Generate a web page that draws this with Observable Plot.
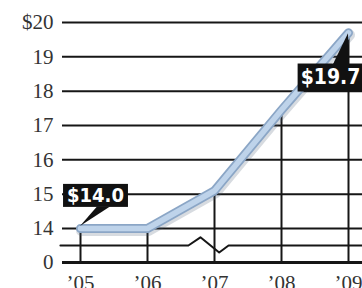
<!DOCTYPE html>
<html>
<head>
<meta charset="utf-8">
<script src="https://cdn.jsdelivr.net/npm/d3@7"></script>
<script src="https://cdn.jsdelivr.net/npm/@observablehq/plot@0.6"></script>
<style>
  html, body { margin: 0; padding: 0; background: #fff; }
  #chart svg { display: block; }
</style>
</head>
<body>
<div id="chart"></div>
<script>
// ---- data ----
const years = [2005, 2006, 2007, 2008, 2009];
const yearLabels = ["’05", "’06", "’07", "’08", "’09"];
const values = [14.0, 14.0, 15.1, 17.45, 19.7];
const yTicks = [0, 14, 15, 16, 17, 18, 19, 20];
const yTickLabels = ["0", "14", "15", "16", "17", "18", "19", "$20"];
const gridValues = [14, 15, 16, 17, 18, 19, 20];
const calloutAbove = [{year: 2005, value: 14.0, text: "$14.0"}];
const calloutBelow = [{year: 2009, value: 19.7, text: "$19.7"}];
// axis-break zigzag (year, value units)
const breakX = [2004.7, 2006.61, 2006.79, 2007.07, 2007.21, 2009.3];
const breakY = [13.5, 13.5, 13.74, 7.9, 13.5, 13.5];

const data = years.map((year, i) => ({year, value: values[i]}));
const breakLine = breakX.map((x, i) => ({x, y: breakY[i]}));
const yTickData = yTicks.map((v, i) => ({v, label: yTickLabels[i]}));
const xTickData = years.map((y, i) => ({y, label: yearLabels[i]}));

const calloutFont = "'Liberation Sans Narrow', 'DejaVu Sans Condensed', 'Arial Narrow', sans-serif";
const W = 362, H = 288;
const plot = Plot.plot({
  width: W,
  height: H,
  marginLeft: 62,
  marginRight: 0,
  marginTop: 22,
  marginBottom: 26,
  style: {background: "#fff"},
  x: {type: "linear", domain: [2005, 2009], range: [80, 348], axis: null},
  y: {type: "linear", domain: [0, 13.5, 14, 20], range: [262, 245, 228, 22], axis: null},
  marks: [
    Plot.ruleY(gridValues, {stroke: "#161616", strokeWidth: 2}),
    Plot.ruleY([0], {stroke: "#161616", strokeWidth: 3}),
    Plot.line(breakLine, {x: "x", y: "y", stroke: "#161616", strokeWidth: 2, curve: "linear"}),
    Plot.ruleX(data, {x: "year", y1: 0, y2: "value", stroke: "#161616", strokeWidth: 2}),
    // data line: shadow, outline, fill
    Plot.line(data, {x: "year", y: "value", stroke: "#4b5c72", strokeOpacity: 0.22, strokeWidth: 11, dx: 1, dy: 2, strokeLinecap: "round", strokeLinejoin: "round"}),
    Plot.line(data, {x: "year", y: "value", stroke: "#8ba6c6", strokeWidth: 9, strokeLinecap: "round", strokeLinejoin: "round"}),
    Plot.line(data, {x: "year", y: "value", stroke: "#bed3ea", strokeWidth: 5.5, strokeLinecap: "round", strokeLinejoin: "round"}),
    // y tick labels
    Plot.text(yTickData, {y: "v", text: "label", frameAnchor: "left", textAnchor: "end", dx: -9,
      fill: "#333", fontSize: 21, fontFamily: "Liberation Serif, 'DejaVu Serif', serif"}),
    // x tick labels
    Plot.text(xTickData, {x: "y", y: () => 0, text: "label", dy: 21,
      fill: "#333", fontSize: 21, fontFamily: "Liberation Serif, 'DejaVu Serif', serif"}),
    // callout labels
    Plot.text(calloutAbove, {x: "year", y: "value", text: "text", dx: 15, dy: -33,
      fill: "#fff", fontSize: 20, fontWeight: "bold", fontFamily: calloutFont}),
    Plot.text(calloutBelow, {x: "year", y: "value", text: "text", dx: -18, dy: 44,
      fill: "#fff", fontSize: 21, fontWeight: "bold", fontFamily: calloutFont})
  ]
});

document.getElementById("chart").appendChild(plot);

// draw callout boxes + tails behind the callout text
try {
  const sx = plot.scale("x"), sy = plot.scale("y");
  const svgRect = plot.getBoundingClientRect();
  // [callout, placement, padX, padTop, padBottom]
  const items = [[calloutAbove[0], "above", 4, 1, 1], [calloutBelow[0], "below", 3, 3, 4]];
  const ns = "http://www.w3.org/2000/svg";
  const texts = Array.from(plot.querySelectorAll("text"));
  for (const [c, place, padX, padT, padB] of items) {
    const t = texts.find(el => el.textContent === c.text);
    if (!t) continue;
    const r = t.getBoundingClientRect();
    const px = sx.apply(c.year), py = sy.apply(c.value);
    const x0 = r.left - svgRect.left - padX, x1 = r.right - svgRect.left + padX;
    const y0 = r.top - svgRect.top + 2 - padT, y1 = r.bottom - svgRect.top - 1 + padB;
    const box = document.createElementNS(ns, "g");
    const rect = document.createElementNS(ns, "rect");
    rect.setAttribute("x", x0); rect.setAttribute("y", y0);
    rect.setAttribute("width", x1 - x0); rect.setAttribute("height", y1 - y0);
    rect.setAttribute("fill", "#111");
    box.appendChild(rect);
    let pts;
    if (place === "above") pts = [[px + 17, y1 - 0.5], [px + 30, y1 - 0.5], [px, py - 2]];
    else pts = [[px - 15, y0 + 0.5], [px + 1, y0 + 0.5], [px, py + 1]];
    const path = document.createElementNS(ns, "path");
    path.setAttribute("d", "M" + pts.map(p => p.join(",")).join("L") + "Z");
    path.setAttribute("fill", "#111");
    box.appendChild(path);
    let g = t;
    while (g.parentNode && g.parentNode !== plot) g = g.parentNode;
    plot.insertBefore(box, g);
  }
} catch (e) { console.error(e); }
</script>
</body>
</html>
